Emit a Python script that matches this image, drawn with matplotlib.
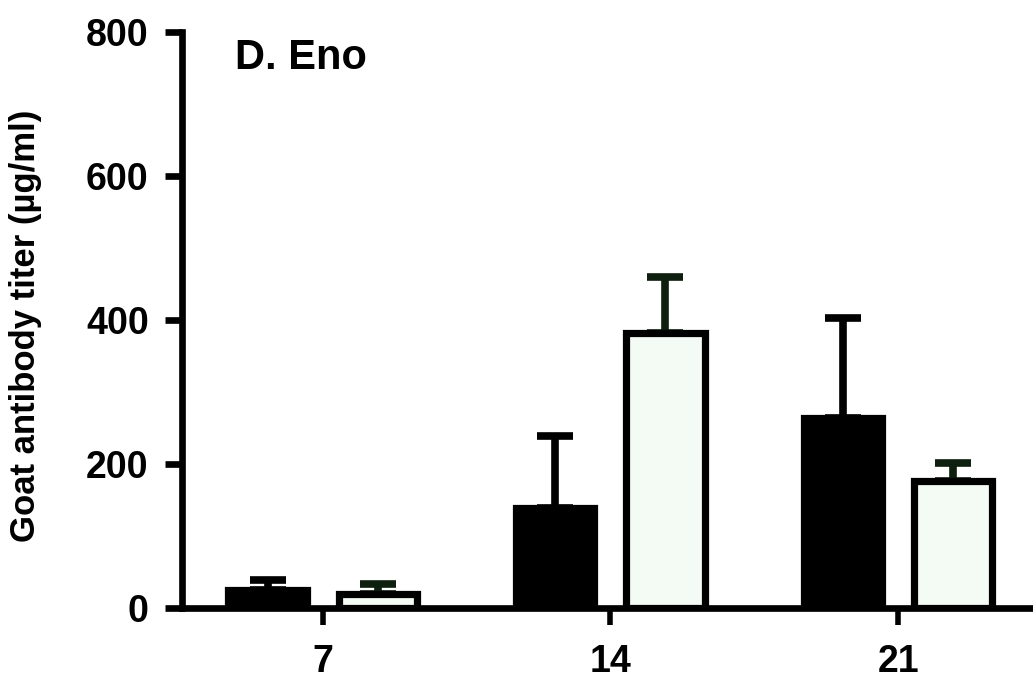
import matplotlib.pyplot as plt

plt.rcParams['font.family'] = ['Liberation Sans', 'DejaVu Sans']
plt.rcParams['font.weight'] = 'bold'

# Data
days = [7, 14, 21]
black_means = [25, 139, 264]
black_err = [14, 100, 139]
white_means = [20, 382, 176]
white_err = [13, 78, 25]
y_ticks = [0, 200, 400, 600, 800]

fig = plt.figure(figsize=(10.33, 6.79), dpi=100)
ax = fig.add_axes([0.1762, 0.1046, 0.8238, 0.8484])

offset = 1.34
width = 1.9
lw = 5.2

x_black = [d - offset for d in days]
x_white = [d + offset for d in days]

ax.bar(x_black, black_means, width=width, color='black', edgecolor='black',
       linewidth=lw, zorder=3)
ax.bar(x_white, white_means, width=width, color='#f4fbf4', edgecolor='black',
       linewidth=lw, zorder=3)

ax.errorbar(x_black, black_means, yerr=[[0] * 3, black_err], fmt='none',
            ecolor='black', elinewidth=5.5, capsize=13, capthick=5.5, zorder=2)
ax.errorbar(x_white, white_means, yerr=[[0] * 3, white_err], fmt='none',
            ecolor='#0f1f0f', elinewidth=5.5, capsize=13, capthick=5.5, zorder=2)

ax.set_xlim(3.58, 24.28)
ax.set_ylim(0, 800)
ax.set_xticks(days)
ax.set_xticklabels([str(d) for d in days])
ax.set_yticks(y_ticks)

for side in ['top', 'right']:
    ax.spines[side].set_visible(False)
for side in ['left', 'bottom']:
    ax.spines[side].set_linewidth(4.8)

ax.tick_params(axis='y', length=12, width=4.8, pad=12, labelsize=27)
ax.tick_params(axis='x', length=12, width=4, pad=14, labelsize=27)

ax.set_ylabel('Goat antibody titer (µg/ml)', fontsize=25, fontweight='bold')
ax.yaxis.set_label_coords(-0.164, 0.49)

ax.text(0.062, 0.99, 'D. Eno', transform=ax.transAxes, fontsize=30,
        fontweight='bold', va='top', ha='left')

fig.savefig('out.png', dpi=100)
